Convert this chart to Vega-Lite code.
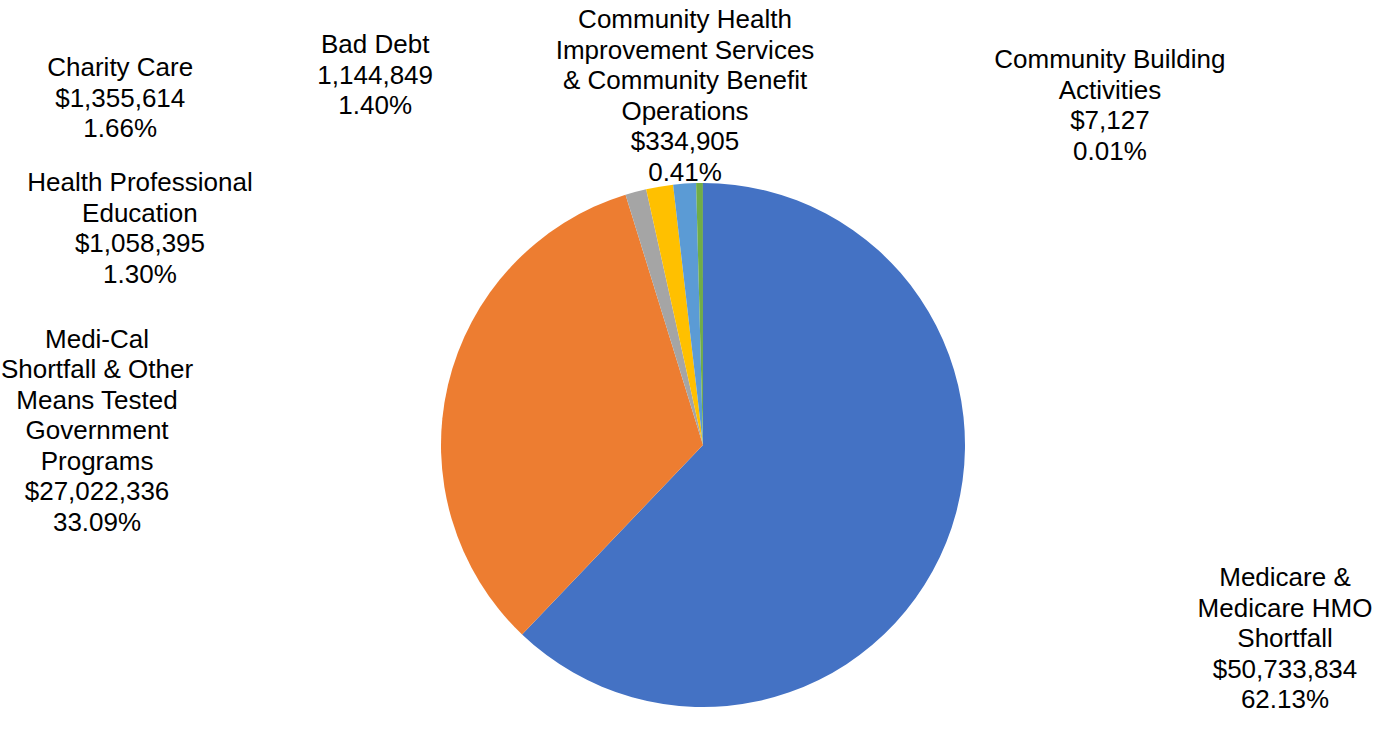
{
  "$schema": "https://vega.github.io/schema/vega-lite/v6.json",
  "width": 1368,
  "height": 580,
  "autosize": {"type": "none"},
  "padding": {"top": 155, "left": 19, "right": 0, "bottom": 0},
  "background": "white",
  "config": {"view": {"stroke": null}},
  "data": {
    "values": [
      {"rank": 1, "category": "Medicare & Medicare HMO Shortfall", "amount": 50733834, "label": "Medicare &\nMedicare HMO\nShortfall\n$50,733,834\n62.13%"},
      {"rank": 2, "category": "Medi-Cal Shortfall & Other Means Tested Government Programs", "amount": 27022336, "label": "Medi-Cal\nShortfall & Other\nMeans Tested\nGovernment\nPrograms\n$27,022,336\n33.09%"},
      {"rank": 3, "category": "Health Professional Education", "amount": 1058395, "label": "Health Professional\nEducation\n$1,058,395\n1.30%"},
      {"rank": 4, "category": "Charity Care", "amount": 1355614, "label": "Charity Care\n$1,355,614\n1.66%"},
      {"rank": 5, "category": "Bad Debt", "amount": 1144849, "label": "Bad Debt\n1,144,849\n1.40%"},
      {"rank": 6, "category": "Community Health Improvement Services & Community Benefit Operations", "amount": 334905, "label": "Community Health\nImprovement Services\n& Community Benefit\nOperations\n$334,905\n0.41%"},
      {"rank": 7, "category": "Community Building Activities", "amount": 7127, "label": "Community Building\nActivities\n$7,127\n0.01%"}
    ]
  },
  "layer": [
    {
      "mark": {"type": "arc", "outerRadius": 262},
      "encoding": {
        "theta": {"field": "amount", "type": "quantitative", "stack": true},
        "order": {"field": "rank", "type": "quantitative"},
        "color": {
          "field": "category",
          "type": "nominal",
          "scale": {
            "domain": [
              "Medicare & Medicare HMO Shortfall",
              "Medi-Cal Shortfall & Other Means Tested Government Programs",
              "Health Professional Education",
              "Charity Care",
              "Bad Debt",
              "Community Health Improvement Services & Community Benefit Operations",
              "Community Building Activities"
            ],
            "range": ["#4472C4", "#ED7D31", "#A5A5A5", "#FFC000", "#5B9BD5", "#70AD47", "#264478"]
          },
          "legend": null
        }
      }
    },
    {
      "mark": {"type": "text", "font": "Liberation Sans", "fontSize": 26, "lineHeight": 30.5, "lineBreak": "\n", "align": "center", "baseline": "middle", "color": "#000000"},
      "encoding": {
        "theta": {"field": "rank", "type": "quantitative", "stack": null, "scale": {"type": "linear", "domain": [1, 2, 3, 4, 5, 6, 7], "range": [1.7955, 4.884, 5.1478, 5.2864, 5.5964, 6.2409, 7.0966], "zero": false, "nice": false}},
        "radius": {"field": "rank", "type": "quantitative", "scale": {"type": "linear", "domain": [1, 2, 3, 4, 5, 6, 7], "range": [597, 615, 621, 694, 517, 425, 560], "zero": false, "nice": false}},
        "text": {"field": "label"}
      }
    }
  ],
  "resolve": {"scale": {"theta": "independent"}}
}
